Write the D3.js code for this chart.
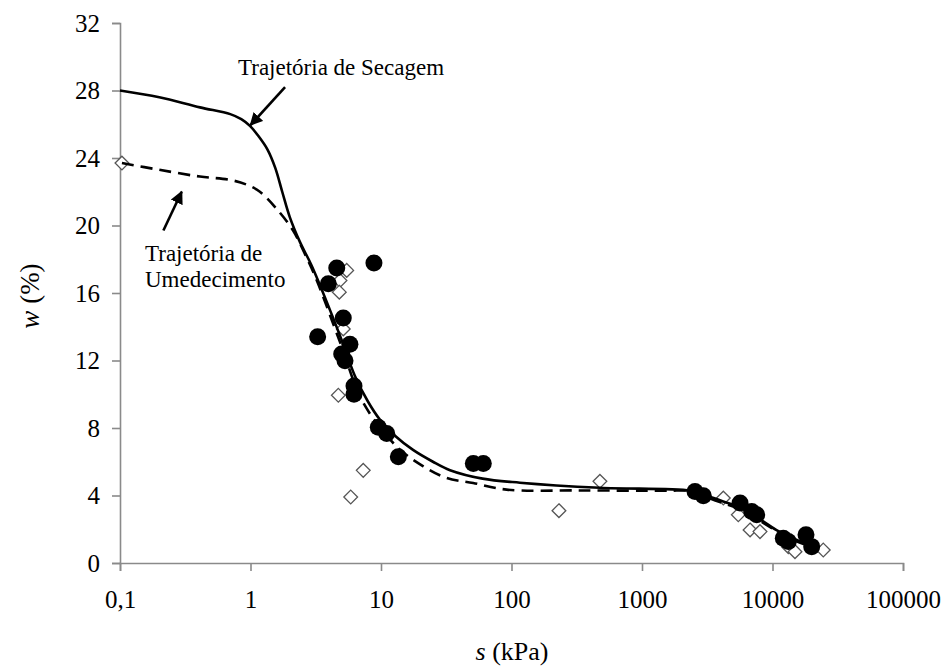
<!DOCTYPE html>
<html>
<head>
<meta charset="utf-8">
<script src="https://cdn.jsdelivr.net/npm/d3@7"></script>
<style>
  html, body { margin: 0; padding: 0; background: #fff; }
  svg { display: block; }
  text { font-family: "Liberation Serif", "Times New Roman", serif; fill: #000; }
</style>
</head>
<body>
<svg id="chart" width="947" height="668"></svg>
<script>
// ---- data ----
const xTickValues = [0.1, 1, 10, 100, 1000, 10000, 100000];
const xTickLabels = ["0,1", "1", "10", "100", "1000", "10000", "100000"];
const yTickValues = [0, 4, 8, 12, 16, 20, 24, 28, 32];

// drying path (Trajetória de Secagem)
const dryS = [0.1, 0.2, 0.41, 0.7, 0.85, 0.99, 1.15, 1.35, 1.55, 1.75, 2.0, 2.4, 2.95, 4.06, 5.0, 6.3, 7.9, 9.8, 13, 17.6, 25, 33.8, 60, 116, 476, 2335, 3000, 4000, 5600, 8000, 11000, 14000, 20000];
const dryW = [28.0, 27.6, 27.0, 26.6, 26.3, 25.9, 25.3, 24.5, 23.4, 22.0, 20.5, 19.0, 17.6, 15.0, 13.2, 11.1, 9.6, 8.5, 7.5, 6.7, 6.0, 5.5, 5.0, 4.76, 4.46, 4.29, 4.05, 3.7, 3.3, 2.6, 1.9, 1.5, 1.0];

// wetting path (Trajetória de Umedecimento)
const wetS = [0.1035, 0.2, 0.41, 0.7, 0.95, 1.18, 1.58, 2.12, 2.69, 3.2, 4.85, 7.31, 13.2, 21.1, 31.8, 50.9, 91.8, 335, 1500, 2500, 3000, 4000, 5600, 8000, 11000, 14000, 20000];
const wetW = [23.7, 23.3, 22.9, 22.7, 22.4, 22.0, 21.0, 19.7, 18.1, 16.8, 13.1, 9.5, 6.9, 5.73, 5.04, 4.74, 4.35, 4.3, 4.28, 4.25, 3.95, 3.6, 3.2, 2.5, 1.85, 1.4, 0.95];

// filled circles
const filledS = [3.27, 3.95, 4.58, 8.83, 5.14, 5.0, 5.3, 5.78, 6.21, 6.21, 9.53, 11.06, 13.58, 51, 60.8, 2548, 2951, 5640, 6930, 7570, 12100, 13220, 18060, 19970];
const filledW = [13.41, 16.55, 17.48, 17.78, 14.52, 12.38, 11.98, 12.96, 10.49, 10.0, 8.05, 7.68, 6.29, 5.9, 5.9, 4.24, 3.99, 3.55, 3.05, 2.86, 1.47, 1.27, 1.67, 0.97];

// open diamonds
const openS = [0.1035, 5.46, 4.85, 4.79, 5.14, 4.71, 7.31, 5.86, 231, 476, 4200, 5470, 6730, 8020, 13220, 14870, 24490];
const openW = [23.7, 17.34, 16.74, 16.05, 13.87, 9.94, 5.49, 3.91, 3.1, 4.84, 3.85, 2.86, 1.96, 1.86, 0.97, 0.67, 0.77];

// annotations (arrow tail -> tip, in data units)
const dryArrow = { s0: 1.84, w0: 28.2, s1: 1.0, w1: 25.95 };
const wetArrow = { s0: 0.215, w0: 19.7, s1: 0.297, w1: 22.0 };

// ---- drawing ----
const svg = d3.select("#chart");
const m = { left: 120, right: 44, top: 23, bottom: 105 };
const W = 947, H = 668;

const x = d3.scaleLog().domain([0.1, 100000]).range([m.left, W - m.right]);
const y = d3.scaleLinear().domain([0, 32]).range([H - m.bottom, m.top]);

const axisColor = "#8a8a8a";

// y axis
const gy = svg.append("g").attr("transform", `translate(${m.left},0)`)
  .call(d3.axisLeft(y).tickValues(yTickValues).tickSize(8).tickPadding(12).tickFormat(d3.format("d")));
gy.select(".domain").attr("stroke", axisColor).attr("stroke-width", 1.6);
gy.selectAll(".tick line").attr("stroke", axisColor).attr("stroke-width", 1.6);
gy.selectAll(".tick text").attr("font-size", 25).attr("fill", "#000");

// x axis
const gx = svg.append("g").attr("transform", `translate(0,${y(0)})`)
  .call(d3.axisBottom(x).tickValues(xTickValues).tickSize(8).tickPadding(19)
    .tickFormat((d, i) => xTickLabels[i]));
gx.select(".domain").attr("stroke", axisColor).attr("stroke-width", 1.6);
gx.selectAll(".tick line").attr("stroke", axisColor).attr("stroke-width", 1.6);
gx.selectAll(".tick text").attr("font-size", 25).attr("fill", "#000");

// axis titles
const xt = svg.append("text").attr("x", 512).attr("y", 660).attr("text-anchor", "middle").attr("font-size", 26);
xt.append("tspan").attr("font-style", "italic").text("s");
xt.append("tspan").text(" (kPa)");

const yt = svg.append("text").attr("transform", "translate(39,296) rotate(-90)").attr("text-anchor", "middle").attr("font-size", 27);
yt.append("tspan").attr("font-style", "italic").text("w");
yt.append("tspan").text(" (%)");

// markers
const gOpen = svg.append("g");
gOpen.selectAll("path").data(openS.map((s, i) => [s, openW[i]])).enter().append("path")
  .attr("d", d3.symbol().type(d3.symbolDiamond2).size(120))
  .attr("transform", d => `translate(${x(d[0])},${y(d[1])})`)
  .attr("fill", "#fff").attr("stroke", "#555").attr("stroke-width", 1.3);

const gFill = svg.append("g");
gFill.selectAll("circle").data(filledS.map((s, i) => [s, filledW[i]])).enter().append("circle")
  .attr("cx", d => x(d[0])).attr("cy", d => y(d[1])).attr("r", 8.5).attr("fill", "#000");

// curves
const line = d3.line().x(d => x(d[0])).y(d => y(d[1])).curve(d3.curveCatmullRom.alpha(0.5));
svg.append("path").datum(wetS.map((s, i) => [s, wetW[i]]))
  .attr("d", line).attr("fill", "none").attr("stroke", "#000").attr("stroke-width", 2.6)
  .attr("stroke-dasharray", "12,7");
svg.append("path").datum(dryS.map((s, i) => [s, dryW[i]]))
  .attr("d", line).attr("fill", "none").attr("stroke", "#000").attr("stroke-width", 2.6);

// arrows
const defs = svg.append("defs");
defs.append("marker").attr("id", "ah").attr("viewBox", "0 0 10 10").attr("refX", 9).attr("refY", 5)
  .attr("markerWidth", 5).attr("markerHeight", 5).attr("markerUnits", "strokeWidth").attr("orient", "auto")
  .append("path").attr("d", "M0,0 L10,5 L0,10 Z").attr("fill", "#000");

[dryArrow, wetArrow].forEach(a => {
  svg.append("line").attr("x1", x(a.s0)).attr("y1", y(a.w0)).attr("x2", x(a.s1)).attr("y2", y(a.w1))
    .attr("stroke", "#000").attr("stroke-width", 2.6).attr("marker-end", "url(#ah)");
});

// labels
svg.append("text").attr("x", 238).attr("y", 75).attr("font-size", 23).text("Trajetória de Secagem");
svg.append("text").attr("x", 145).attr("y", 261).attr("font-size", 23).text("Trajetória de");
svg.append("text").attr("x", 145).attr("y", 287).attr("font-size", 23).text("Umedecimento");
</script>
</body>
</html>
